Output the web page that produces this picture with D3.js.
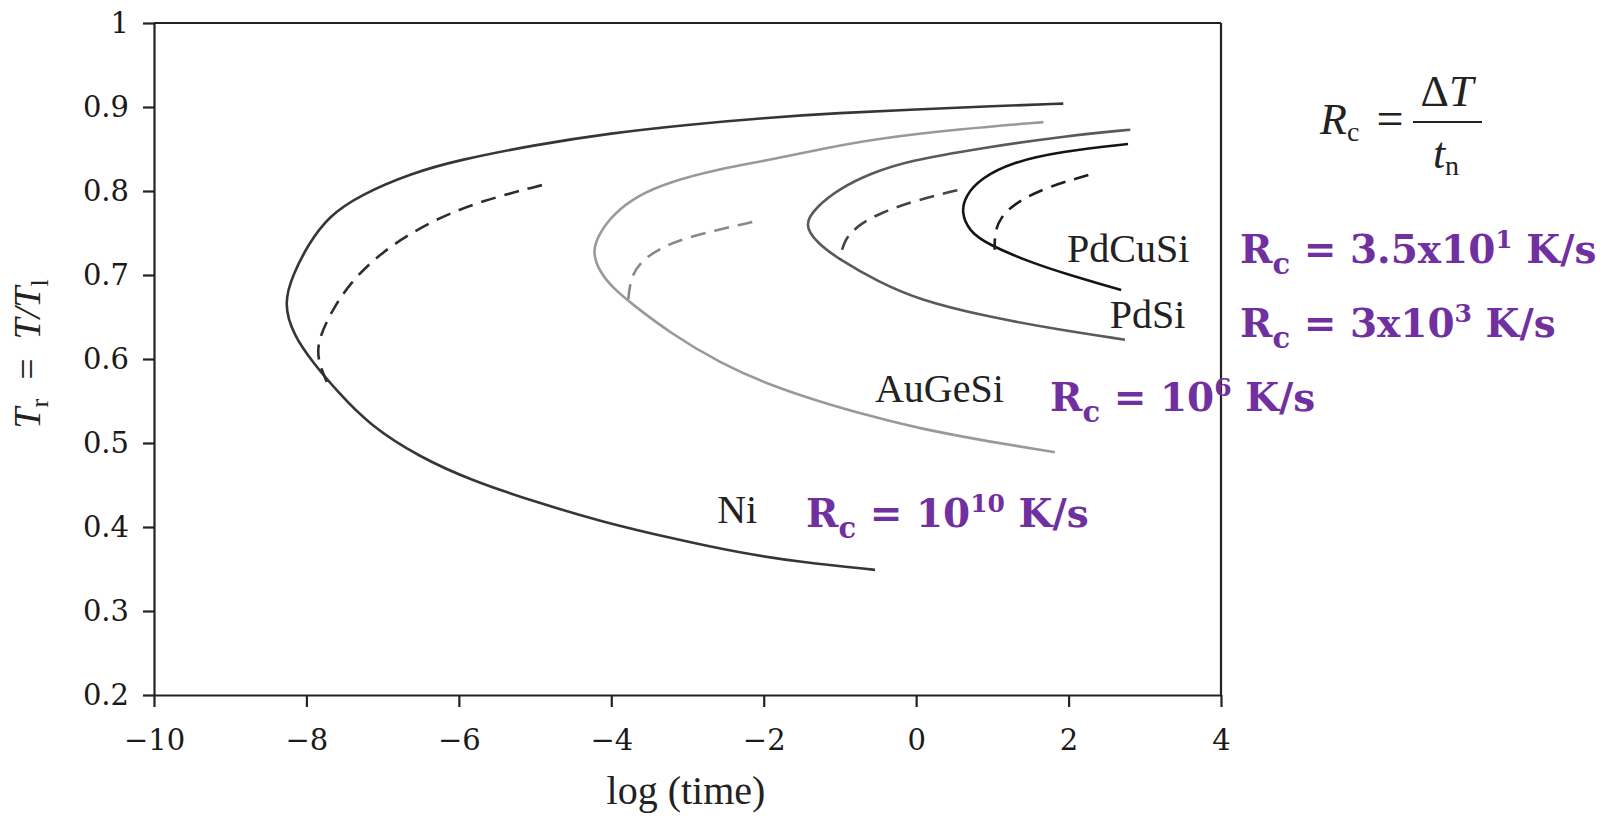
<!DOCTYPE html>
<html>
<head>
<meta charset="utf-8">
<script src="https://cdn.jsdelivr.net/npm/d3@7"></script>
<style>
  body { margin: 0; background: #fff; }
</style>
</head>
<body>
<script>
// TTT-кривые: [log(time), Tr]
const niSolid = [[1.93,0.904],[1,0.901],[0,0.897],[-1,0.893],[-2,0.887],[-3,0.879],[-4,0.869],[-5,0.855],[-6,0.837],[-6.63,0.821],[-7.3,0.795],[-7.71,0.77],[-7.98,0.736],[-8.18,0.70],[-8.3,0.666],[-8.17,0.628],[-7.9,0.594],[-7.6,0.562],[-7.17,0.521],[-6.51,0.483],[-5.85,0.456],[-4.97,0.429],[-4.11,0.406],[-3.23,0.387],[-2.31,0.369],[-1.5,0.358],[-0.54,0.349]];
const niDash = [[-4.91,0.807],[-5.68,0.789],[-6.36,0.765],[-7.03,0.727],[-7.43,0.69],[-7.65,0.66],[-7.84,0.625],[-7.86,0.6],[-7.73,0.572]];
const augesiSolid = [[1.67,0.882],[0.6,0.874],[-0.47,0.863],[-1.2,0.851],[-1.92,0.837],[-2.6,0.826],[-3.23,0.811],[-3.65,0.795],[-3.97,0.773],[-4.17,0.748],[-4.25,0.727],[-4.15,0.703],[-3.97,0.684],[-3.75,0.667],[-3.23,0.631],[-2.57,0.595],[-1.92,0.569],[-1.26,0.549],[-0.6,0.532],[0.05,0.517],[1,0.501],[1.82,0.489]];
const augesiDash = [[-2.15,0.763],[-2.79,0.75],[-3.23,0.738],[-3.58,0.72],[-3.75,0.698],[-3.78,0.667]];
const pdsiSolid = [[2.81,0.873],[2,0.866],[0.84,0.851],[-0.1,0.836],[-0.6,0.821],[-1.0,0.803],[-1.3,0.782],[-1.48,0.76],[-1.3,0.738],[-1.0,0.718],[-0.5,0.692],[0.05,0.67],[0.9,0.651],[1.8,0.636],[2.74,0.623]];
const pdsiDash = [[0.54,0.801],[0,0.789],[-0.47,0.774],[-0.75,0.76],[-0.95,0.742],[-1.0,0.718]];
const pdcusiSolid = [[2.78,0.856],[1.9,0.847],[1.25,0.834],[0.85,0.815],[0.65,0.795],[0.59,0.774],[0.7,0.752],[0.93,0.737],[1.47,0.716],[2.01,0.70],[2.69,0.682]];
const pdcusiDash = [[2.26,0.819],[1.72,0.805],[1.3,0.786],[1.1,0.768],[1.03,0.75],[1.03,0.73]];

const xTicks = [-10,-8,-6,-4,-2,0,2,4];
const yTicks = [0.2,0.3,0.4,0.5,0.6,0.7,0.8,0.9,1];

// подписи сплавов: текст, log(time), Tr
const alloyNames = ["PdCuSi","PdSi","AuGeSi","Ni"];
const alloyAt = [[1.98,0.7155],[2.54,0.637],[-0.54,0.549],[-2.61,0.405]];

// критические скорости охлаждения
const rcMant = ["3.5x10","3x10","10","10"];
const rcExp = ["1","3","6","10"];

const width = 1613, height = 819;
const svg = d3.select("body").append("svg")
  .attr("width", width).attr("height", height)
  .style("background", "#fff");

const x = d3.scaleLinear().domain([-10, 4]).range([154, 1221]);
const y = d3.scaleLinear().domain([0.2, 1]).range([695, 23]);

const serif = "'Liberation Serif', 'Times New Roman', serif";

// рамка
svg.append("line").attr("x1", x(-10)).attr("x2", x(4)).attr("y1", y(1)).attr("y2", y(1))
  .attr("stroke", "#222").attr("stroke-width", 2.2);
svg.append("line").attr("x1", x(4)).attr("x2", x(4)).attr("y1", y(1)).attr("y2", y(0.2))
  .attr("stroke", "#222").attr("stroke-width", 2.2);

const gx = svg.append("g")
  .attr("transform", `translate(0,${y(0.2)})`)
  .call(d3.axisBottom(x).tickValues(xTicks).tickSize(12).tickSizeOuter(0).tickPadding(22).tickFormat(d3.format("d")));
const gy = svg.append("g")
  .attr("transform", `translate(${x(-10)},0)`)
  .call(d3.axisLeft(y).tickValues(yTicks).tickSize(11).tickSizeOuter(0).tickPadding(14)
    .tickFormat(d => d === 1 ? "1" : d3.format(".1f")(d)));

[gx, gy].forEach(g => {
  g.attr("font-family", "'DejaVu Serif', serif").attr("font-size", 29);
  g.selectAll("path, line").attr("stroke", "#222").attr("stroke-width", 2.2);
  g.selectAll("text").attr("fill", "#1a1a1a");
});

// кривые
const line = d3.line()
  .x(d => x(d[0])).y(d => y(d[1]))
  .curve(d3.curveBasis);

const curves = [
  {pts: niSolid, color: "#363636", dash: null},
  {pts: niDash, color: "#2e2e2e", dash: "15 9"},
  {pts: augesiSolid, color: "#999", dash: null},
  {pts: augesiDash, color: "#888", dash: "15 9"},
  {pts: pdsiSolid, color: "#5a5a5a", dash: null},
  {pts: pdsiDash, color: "#444", dash: "15 9"},
  {pts: pdcusiSolid, color: "#141414", dash: null},
  {pts: pdcusiDash, color: "#1e1e1e", dash: "15 9"}
];

svg.append("g").attr("fill", "none")
  .selectAll("path")
  .data(curves)
  .join("path")
    .attr("d", d => line(d.pts))
    .attr("stroke", d => d.color)
    .attr("stroke-width", 2.6)
    .attr("stroke-dasharray", d => d.dash);

// подписи кривых
svg.append("g")
  .attr("font-family", serif).attr("font-size", 40).attr("fill", "#222")
  .selectAll("text")
  .data(alloyNames)
  .join("text")
    .attr("x", (d, i) => x(alloyAt[i][0]))
    .attr("y", (d, i) => y(alloyAt[i][1]))
    .text(d => d);

// подпись оси X
svg.append("text")
  .attr("x", 686).attr("y", 804)
  .attr("text-anchor", "middle")
  .attr("font-family", serif).attr("font-size", 40).attr("fill", "#222")
  .text("log (time)");

// подпись оси Y: Tr = T/Tl
const yt = svg.append("text")
  .attr("transform", "translate(40,354) rotate(-90)")
  .attr("text-anchor", "middle")
  .attr("font-family", serif).attr("font-size", 38).attr("fill", "#222");
yt.append("tspan").attr("font-style", "italic").text("T");
yt.append("tspan").attr("font-size", 26).attr("dy", 8).text("r");
yt.append("tspan").attr("dy", -8).text("\u2002=\u2002");
yt.append("tspan").attr("font-style", "italic").text("T/T");
yt.append("tspan").attr("font-size", 26).attr("dy", 8).text("l");

// формула Rc = ΔT / tn
const fm = svg.append("g").attr("font-family", serif).attr("fill", "#222");
const r1 = fm.append("text").attr("x", 1320).attr("y", 134).attr("font-size", 44);
r1.append("tspan").attr("font-style", "italic").text("R");
r1.append("tspan").attr("font-size", 28).attr("dy", 7).text("c");
fm.append("text").attr("x", 1390).attr("y", 135).attr("font-size", 48)
  .attr("text-anchor", "middle").text("=");
fm.append("line").attr("x1", 1413).attr("x2", 1482).attr("y1", 122).attr("y2", 122)
  .attr("stroke", "#222").attr("stroke-width", 2);
const num = fm.append("text").attr("x", 1447).attr("y", 106).attr("font-size", 44)
  .attr("text-anchor", "middle");
num.append("tspan").text("Δ");
num.append("tspan").attr("font-style", "italic").text("T");
const den = fm.append("text").attr("x", 1446).attr("y", 168).attr("font-size", 44)
  .attr("text-anchor", "middle");
den.append("tspan").attr("font-style", "italic").text("t");
den.append("tspan").attr("font-size", 28).attr("dy", 7).text("n");

// фиолетовые аннотации
const rcPos = [[1240,263],[1240,337],[1050,411],[806,527]];
const ann = svg.append("g")
  .attr("font-family", "'DejaVu Serif', serif").attr("font-weight", "bold")
  .attr("font-size", 39).attr("fill", "#7030A0");
rcMant.forEach((m, i) => {
  const t = ann.append("text").attr("x", rcPos[i][0]).attr("y", rcPos[i][1]);
  t.append("tspan").text("R");
  t.append("tspan").attr("font-size", 29).attr("dy", 11).text("c");
  t.append("tspan").attr("dy", -11).text(" = " + m);
  t.append("tspan").attr("font-size", 25).attr("dy", -15).text(rcExp[i]);
  t.append("tspan").attr("dy", 15).text(" K/s");
});
</script>
</body>
</html>
